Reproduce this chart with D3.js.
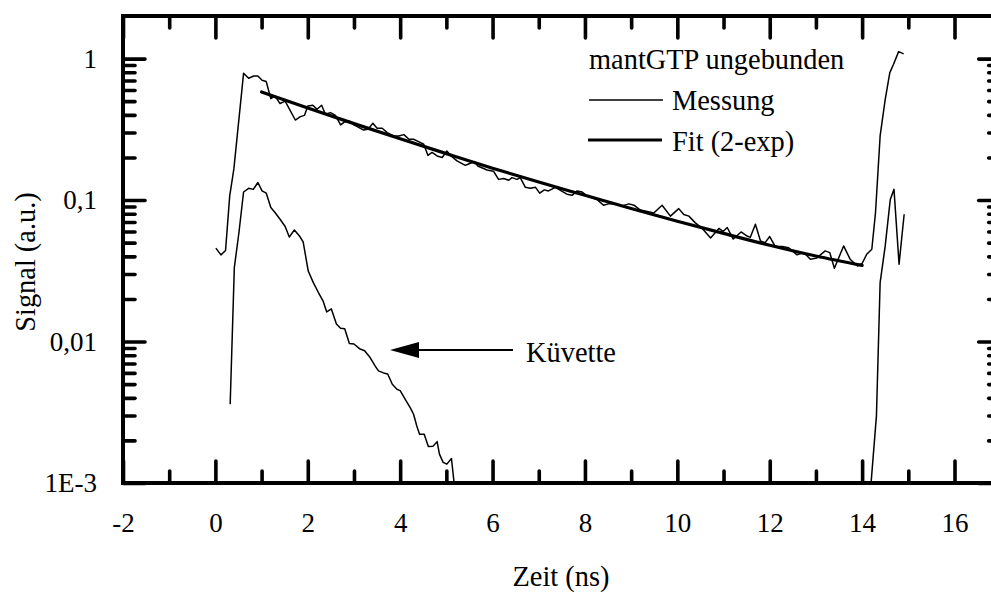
<!DOCTYPE html>
<html>
<head>
<meta charset="utf-8">
<script src="https://cdn.jsdelivr.net/npm/d3@7"></script>
<style>
  html, body { margin: 0; padding: 0; background: #fff; }
  svg { display: block; }
  svg text { font-family: "Times New Roman", "Liberation Serif", Tinos, "DejaVu Serif", serif !important; fill: #000; }
</style>
</head>
<body>
<svg id="chart" width="991" height="592"></svg>
<script>
// Fluorescence decay, mantGTP (unbound): measured trace
const messT = [0.01,0.12,0.22,0.31,0.40,0.61,0.72,0.83,0.92,1.01,1.10,1.20,1.29,1.40,1.51,1.73,1.84,1.93,2.00,2.11,2.20,2.30,2.38,2.49,2.60,2.71,2.79,2.90,3.00,3.20,3.30,3.41,3.50,3.61,3.72,3.86,3.97,4.08,4.19,4.29,4.40,4.51,4.60,4.69,4.80,4.91,5.01,5.10,5.23,5.41,5.48,5.61,5.68,5.88,6.02,6.13,6.24,6.35,6.42,6.53,6.60,6.71,6.82,6.93,7.02,7.12,7.21,7.36,7.47,7.61,7.72,7.83,7.94,8.04,8.26,8.40,8.51,8.66,8.80,8.95,9.06,9.20,9.35,9.49,9.67,9.85,10.03,10.14,10.25,10.39,10.54,10.72,10.90,10.99,11.08,11.21,11.38,11.51,11.58,11.69,11.80,11.90,12.00,12.12,12.27,12.41,12.59,12.74,12.88,13.02,13.20,13.30,13.40,13.60,13.74,13.90,14.00,14.10,14.21,14.29,14.39,14.50,14.60,14.68,14.79,14.90];
const messV = [0.0457,0.041,0.044,0.107,0.166,0.787,0.726,0.753,0.753,0.703,0.688,0.521,0.544,0.481,0.50,0.368,0.389,0.397,0.463,0.468,0.438,0.468,0.404,0.415,0.397,0.34,0.356,0.362,0.34,0.313,0.316,0.349,0.322,0.322,0.30,0.284,0.284,0.29,0.269,0.269,0.259,0.248,0.207,0.217,0.205,0.20,0.222,0.205,0.189,0.176,0.18,0.187,0.174,0.163,0.16,0.14,0.142,0.138,0.144,0.14,0.144,0.123,0.121,0.123,0.112,0.118,0.116,0.123,0.117,0.11,0.108,0.116,0.114,0.107,0.101,0.092,0.094,0.094,0.091,0.094,0.092,0.085,0.083,0.081,0.092,0.077,0.087,0.079,0.077,0.069,0.063,0.054,0.063,0.060,0.064,0.053,0.0595,0.0557,0.0545,0.0675,0.0514,0.050,0.0552,0.0469,0.0469,0.046,0.041,0.0425,0.0382,0.039,0.0437,0.0425,0.033,0.0474,0.0382,0.0342,0.0356,0.0414,0.0449,0.0816,0.284,0.515,0.796,0.912,1.12,1.08];

// Cuvette background signal (main pulse and onset of the next pulse)
const kuvT = [0.32,0.41,0.51,0.61,0.72,0.82,0.92,1.01,1.10,1.20,1.29,1.40,1.51,1.60,1.71,1.82,1.90,2.01,2.12,2.23,2.33,2.41,2.51,2.62,2.71,2.80,2.90,3.00,3.12,3.23,3.35,3.46,3.53,3.64,3.73,3.83,3.93,4.00,4.11,4.22,4.29,4.36,4.42,4.52,4.61,4.71,4.80,4.85,4.93,5.01,5.11,5.20];
const kuvV = [0.0036,0.0333,0.059,0.114,0.121,0.119,0.133,0.116,0.112,0.0885,0.0816,0.0732,0.065,0.0548,0.0615,0.0557,0.0506,0.0315,0.0261,0.0222,0.0194,0.0162,0.017,0.0133,0.0124,0.0123,0.0097,0.0096,0.0089,0.0086,0.0077,0.0067,0.0062,0.0060,0.0059,0.00499,0.0046,0.0045,0.0039,0.0034,0.00306,0.00253,0.00221,0.00221,0.00181,0.00182,0.00196,0.0016,0.0014,0.00136,0.00149,0.0008];
const kuvNextT = [14.17,14.31,14.39,14.50,14.61,14.69,14.80,14.91];
const kuvNextV = [0.0008,0.00298,0.0261,0.0474,0.101,0.119,0.0352,0.0794];

// Biexponential fit of the measured decay
const fitT = [1,2,3,4,5,6,7,8,9,10,11,12,13,14];
const fitV = [0.581,0.447,0.347,0.271,0.213,0.168,0.134,0.108,0.0871,0.0709,0.0581,0.0479,0.0402,0.0345];

// Axis ticks
const xMajor = [-2,0,2,4,6,8,10,12,14,16];
const xMinor = [-1,1,3,5,7,9,11,13,15];
const yMajor = [0.001,0.01,0.1,1];
const yLabels = ["1E-3","0,01","0,1","1"];
const yMinor = [2,3,4,5,6,7,8,9].flatMap(m => [0.001,0.01,0.1].map(d => m*d));

const svg = d3.select("#chart");
const TICK_FONT = 27;
const TEXT_FONT = 28.4;
const SERIF = '"Times New Roman", "Liberation Serif", Tinos, "DejaVu Serif", serif';

const x = d3.scaleLinear().domain([-2, 17]).range([123, 1000.7]);
const y = d3.scaleLog().domain([0.001, 2]).range([483, 16]);

svg.append("rect").attr("width", 991).attr("height", 592).attr("fill", "#fff");

svg.append("defs").append("clipPath").attr("id", "plot")
  .append("rect").attr("x", x(-2)).attr("y", y(2)).attr("width", x(17) - x(-2)).attr("height", y(0.001) - y(2));

const g = svg.append("g").attr("clip-path", "url(#plot)");

const line = d3.line().x(d => x(d[0])).y(d => y(d[1]));
const zip = (a, b) => a.map((t, i) => [t, b[i]]);

g.append("path").datum(zip(messT, messV)).attr("d", line)
  .attr("fill", "none").attr("stroke", "#000").attr("stroke-width", 1.5).attr("stroke-linejoin", "round");
g.append("path").datum(zip(kuvT, kuvV)).attr("d", line)
  .attr("fill", "none").attr("stroke", "#000").attr("stroke-width", 1.5).attr("stroke-linejoin", "round");
g.append("path").datum(zip(kuvNextT, kuvNextV)).attr("d", line)
  .attr("fill", "none").attr("stroke", "#000").attr("stroke-width", 1.5).attr("stroke-linejoin", "round");
g.append("path").datum(zip(fitT, fitV)).attr("d", line.curve(d3.curveMonotoneX))
  .attr("fill", "none").attr("stroke", "#000").attr("stroke-width", 3.2).attr("stroke-linecap", "round");

// Axes with inward ticks on all four sides
function styleAxis(sel) {
  sel.attr("font-family", SERIF).attr("font-size", TICK_FONT);
  sel.select(".domain").remove();
  sel.selectAll(".tick line").attr("stroke", "#000").attr("stroke-width", 3.6).attr("stroke-linecap", "round");
  sel.selectAll(".tick text").attr("fill", "#000");
}
const MAJ = 22, MIN = 12;

svg.append("g").attr("transform", `translate(0,${y(0.001)})`)
  .call(d3.axisBottom(x).tickValues(xMajor).tickSize(-MAJ).tickPadding(30).tickFormat(d => d < 0 ? "-" + Math.abs(d) : String(d)))
  .call(styleAxis);
svg.append("g").attr("transform", `translate(0,${y(0.001)})`)
  .call(d3.axisBottom(x).tickValues(xMinor).tickSize(-MIN).tickFormat(""))
  .call(styleAxis);
svg.append("g").attr("transform", `translate(0,${y(2)})`)
  .call(d3.axisTop(x).tickValues(xMajor).tickSize(-MAJ).tickFormat(""))
  .call(styleAxis);
svg.append("g").attr("transform", `translate(0,${y(2)})`)
  .call(d3.axisTop(x).tickValues(xMinor).tickSize(-MIN).tickFormat(""))
  .call(styleAxis);

svg.append("g").attr("transform", `translate(${x(-2)},0)`)
  .call(d3.axisLeft(y).tickValues(yMajor).tickSize(-MAJ).tickPadding(26).tickFormat((d, i) => yLabels[i]))
  .call(styleAxis);
svg.append("g").attr("transform", `translate(${x(-2)},0)`)
  .call(d3.axisLeft(y).tickValues(yMinor).tickSize(-MIN).tickFormat(""))
  .call(styleAxis);
svg.append("g").attr("transform", `translate(${x(17)},0)`)
  .call(d3.axisRight(y).tickValues(yMajor).tickSize(-MAJ).tickFormat(""))
  .call(styleAxis);
svg.append("g").attr("transform", `translate(${x(17)},0)`)
  .call(d3.axisRight(y).tickValues(yMinor).tickSize(-MIN).tickFormat(""))
  .call(styleAxis);

// Frame
svg.append("rect")
  .attr("x", x(-2)).attr("y", y(2))
  .attr("width", x(17) - x(-2)).attr("height", y(0.001) - y(2))
  .attr("fill", "none").attr("stroke", "#000").attr("stroke-width", 4);

const txt = svg.append("g").attr("font-family", SERIF).attr("font-size", TEXT_FONT);

// Axis titles
txt.append("text").attr("x", 561).attr("y", 586).attr("text-anchor", "middle").text("Zeit (ns)");
txt.append("text").attr("transform", "translate(35,262) rotate(-90)").attr("text-anchor", "middle").text("Signal (a.u.)");

// Legend
txt.append("text").attr("x", 589).attr("y", 69).text("mantGTP ungebunden");
svg.append("line").attr("x1", 589).attr("x2", 663).attr("y1", 100).attr("y2", 100)
  .attr("stroke", "#000").attr("stroke-width", 1.5);
txt.append("text").attr("x", 672).attr("y", 110).text("Messung");
svg.append("line").attr("x1", 588).attr("x2", 662).attr("y1", 140).attr("y2", 140)
  .attr("stroke", "#000").attr("stroke-width", 3.2);
txt.append("text").attr("x", 672).attr("y", 151).text("Fit (2-exp)");

// Annotation arrow for the cuvette signal
svg.append("line").attr("x1", 513).attr("x2", 412).attr("y1", 350).attr("y2", 350)
  .attr("stroke", "#000").attr("stroke-width", 2);
svg.append("path").attr("d", "M390,350 L419,342 L419,358 Z").attr("fill", "#000");
txt.append("text").attr("x", 526).attr("y", 362).text("Küvette");
</script>
</body>
</html>
